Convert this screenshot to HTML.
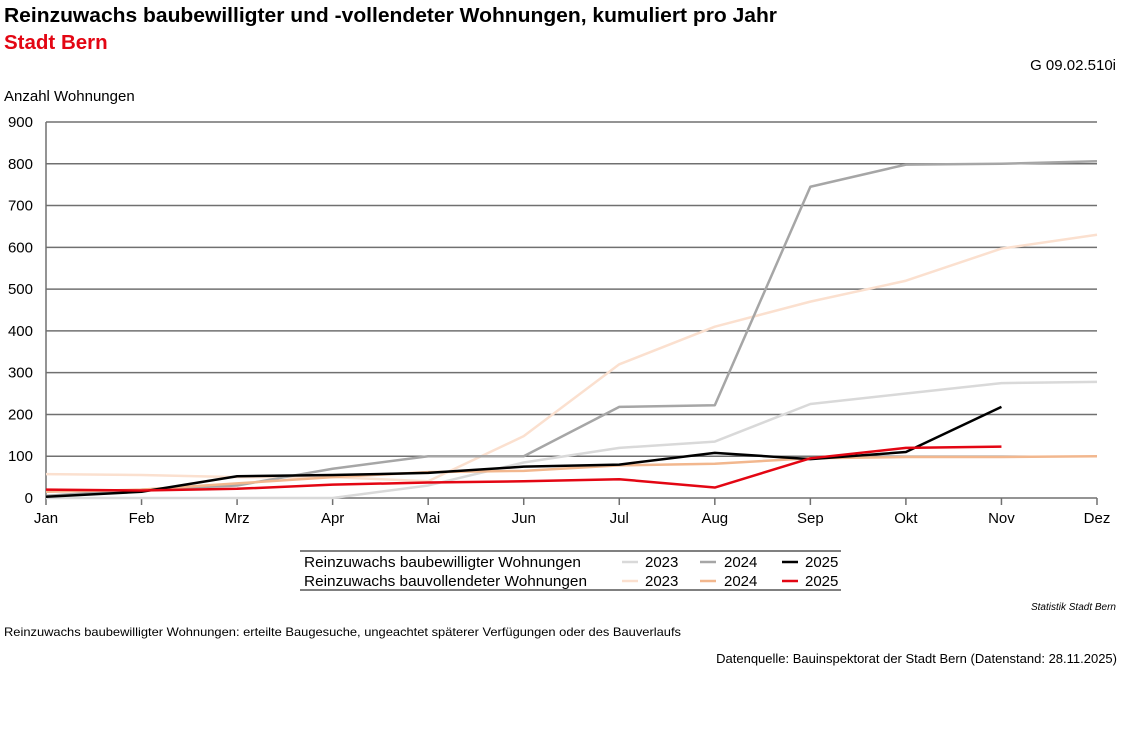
<!DOCTYPE html>
<html><head><meta charset="utf-8"><style>
body{margin:0;background:#fff;width:1127px;height:739px;overflow:hidden;font-family:"Liberation Sans",Arial,sans-serif}
</style></head><body>
<svg id="s" width="1127" height="739" xmlns="http://www.w3.org/2000/svg" font-family="Liberation Sans, Arial, sans-serif">
<text x="4" y="22" font-size="20.5" font-weight="bold" fill="#000" textLength="773" lengthAdjust="spacingAndGlyphs">Reinzuwachs baubewilligter und -vollendeter Wohnungen, kumuliert pro Jahr</text>
<text x="4" y="49" font-size="20.5" font-weight="bold" fill="#e30613">Stadt Bern</text>
<text x="1116" y="70" font-size="15" text-anchor="end">G 09.02.510i</text>
<text x="4" y="101" font-size="15">Anzahl Wohnungen</text>
<g id="grid"></g>
<g id="lines"></g>
<g font-size="15">
<line x1="300" y1="551" x2="841" y2="551" stroke="#000"/>
<line x1="300" y1="590" x2="841" y2="590" stroke="#000"/>
<text x="304" y="567" textLength="277" lengthAdjust="spacingAndGlyphs">Reinzuwachs baubewilligter Wohnungen</text>
<text x="304" y="586" textLength="283" lengthAdjust="spacingAndGlyphs">Reinzuwachs bauvollendeter Wohnungen</text>
<line x1="622" y1="562" x2="638" y2="562" stroke="#d9d9d9" stroke-width="2.5"/><text x="645" y="567">2023</text>
<line x1="700" y1="562" x2="716" y2="562" stroke="#a6a6a6" stroke-width="2.5"/><text x="724" y="567">2024</text>
<line x1="782" y1="562" x2="798" y2="562" stroke="#000" stroke-width="2.5"/><text x="805" y="567">2025</text>
<line x1="622" y1="581" x2="638" y2="581" stroke="#fbe0cf" stroke-width="2.5"/><text x="645" y="586">2023</text>
<line x1="700" y1="581" x2="716" y2="581" stroke="#f2b78e" stroke-width="2.5"/><text x="724" y="586">2024</text>
<line x1="782" y1="581" x2="798" y2="581" stroke="#e30613" stroke-width="2.5"/><text x="805" y="586">2025</text>
</g>
<text x="1116" y="610" font-size="10" font-style="italic" text-anchor="end">Statistik Stadt Bern</text>
<text x="4" y="636" font-size="12" textLength="677" lengthAdjust="spacingAndGlyphs">Reinzuwachs baubewilligter Wohnungen: erteilte Baugesuche, ungeachtet späterer Verfügungen oder des Bauverlaufs</text>
<text x="1117" y="663" font-size="13" text-anchor="end">Datenquelle: Bauinspektorat der Stadt Bern (Datenstand: 28.11.2025)</text>
</svg>
<script>
function X(i){return 46+95.545*i}
function Y(v){return 498-v*0.4178}
var g=document.getElementById('grid'),h='';
for(var v=0;v<=900;v+=100){h+='<line x1="46" x2="1097" y1="'+Y(v)+'" y2="'+Y(v)+'" stroke="#707070" stroke-width="1.5"/>';
h+='<text x="33" y="'+(Y(v)+5)+'" font-size="15" text-anchor="end">'+v+'</text>';}
h+='<line x1="46" x2="46" y1="122" y2="498" stroke="#707070" stroke-width="1.5"/>';
var m=['Jan','Feb','Mrz','Apr','Mai','Jun','Jul','Aug','Sep','Okt','Nov','Dez'];
for(var i=0;i<12;i++){h+='<line x1="'+X(i)+'" x2="'+X(i)+'" y1="498" y2="505" stroke="#707070" stroke-width="1.5"/>';
h+='<text x="'+X(i)+'" y="523" font-size="15" text-anchor="middle">'+m[i]+'</text>';}
g.innerHTML=h;
var S=[
['#fbe0cf',[57,55,50,50,40,148,320,410,470,520,597,630]],
['#d9d9d9',[0,0,0,0,30,85,120,135,225,250,275,278]],
['#a6a6a6',[5,20,30,70,100,100,218,222,745,798,800,806]],
['#f2b78e',[15,20,35,50,62,65,78,82,95,98,98,100]],
['#000',[3,15,52,55,60,75,80,108,93,110,218]],
['#e30613',[20,18,22,32,37,40,45,25,95,120,123]]];
var l='';
S.forEach(function(s){var p=s[1].map(function(v,i){return X(i)+','+Y(v)}).join(' ');
l+='<polyline points="'+p+'" fill="none" stroke="'+s[0]+'" stroke-width="2.5" stroke-linejoin="round"/>';});
document.getElementById('lines').innerHTML=l;
</script>
</body></html>
